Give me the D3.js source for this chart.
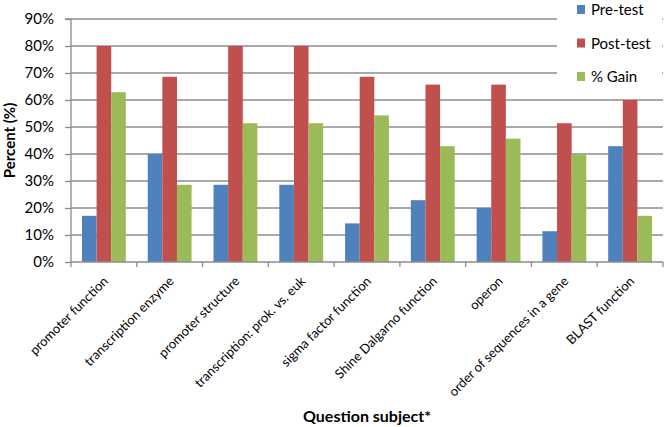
<!DOCTYPE html>
<html><head><meta charset="utf-8">
<script src="https://cdn.jsdelivr.net/npm/d3@7"></script>
<style>body{margin:0;background:#fff}svg{display:block}text{font-family:Lato,"Open Sans",sans-serif;fill:#000}</style>
</head><body>
<script>
const categories = ["promoter function","transcription enzyme","promoter structure","transcription: prok. vs. euk","sigma factor function","Shine Dalgarno function","operon","order of sequences in a gene","BLAST function"];
const seriesNames = ["Pre-test","Post-test","% Gain"];
const preTest  = [17.1, 40.0, 28.6, 28.6, 14.3, 22.9, 20.0, 11.4, 42.9];
const postTest = [80.0, 68.6, 80.0, 80.0, 68.6, 65.7, 65.7, 51.4, 60.0];
const gain     = [62.9, 28.6, 51.4, 51.4, 54.3, 42.9, 45.7, 40.0, 17.1];
const yTicks = [0,10,20,30,40,50,60,70,80,90];
const colors = ["#4F81BD","#C0504D","#9BBB59"];

const W = 664, H = 427;
const m = {left:71, right:1, top:19, bottom:165};
const svg = d3.select("body").append("svg").attr("width",W).attr("height",H);

const x0 = d3.scaleBand().domain(categories).range([m.left, W-m.right]).paddingInner(1/3).paddingOuter(1/6);
const xAxisBand = d3.scaleBand().domain(categories).range([m.left, W-m.right]);
const x1 = d3.scaleBand().domain(seriesNames).range([0, x0.bandwidth()]);
const y = d3.scaleLinear().domain([0,90]).range([H-m.bottom, m.top]);

const values = [preTest, postTest, gain];

// gridlines
svg.append("g").selectAll("line").data(yTicks.filter(d=>d>0)).join("line")
  .attr("x1",m.left).attr("x2",W-m.right)
  .attr("y1",d=>y(d)).attr("y2",d=>y(d))
  .attr("stroke","#8c8c8c").attr("stroke-width",1.3);

// bars
const groups = svg.append("g").selectAll("g").data(categories).join("g")
  .attr("transform",d=>`translate(${x0(d)},0)`);
groups.selectAll("rect").data((d,i)=>seriesNames.map((s,j)=>({s, v:values[j][i]}))).join("rect")
  .attr("x",d=>x1(d.s)).attr("width",x1.bandwidth())
  .attr("y",d=>y(d.v)).attr("height",d=>y(0)-y(d.v))
  .attr("fill",d=>colors[seriesNames.indexOf(d.s)]);

// y axis
const yAxis = svg.append("g").attr("transform",`translate(${m.left},0)`)
  .call(d3.axisLeft(y).tickValues(yTicks).tickFormat(d=>d+"%").tickSize(6).tickPadding(11));
yAxis.select(".domain").attr("stroke","#8c8c8c").attr("stroke-width",1.3).attr("d",`M-6,${y(90)}H0V${y(0)}`);
yAxis.selectAll(".tick line").attr("stroke","#8c8c8c").attr("stroke-width",1.3);
yAxis.selectAll(".tick text").style("font-size","15px").style("font-family","Lato");

// x axis
const xg = svg.append("g").attr("transform",`translate(0,${y(0)})`);
xg.append("line").attr("x1",m.left).attr("x2",W-m.right).attr("y1",0).attr("y2",0)
  .attr("stroke","#8c8c8c").attr("stroke-width",1.3);
const bounds = categories.map(c=>xAxisBand(c)).concat([W-m.right]);
xg.selectAll("line.t").data(bounds).join("line").attr("class","t")
  .attr("x1",d=>d).attr("x2",d=>d).attr("y1",0).attr("y2",5)
  .attr("stroke","#8c8c8c").attr("stroke-width",1.3);
xg.selectAll("text").data(categories).join("text")
  .attr("transform",d=>`translate(${xAxisBand(d)+xAxisBand.bandwidth()/2+5},20) rotate(-45)`)
  .attr("text-anchor","end").style("font-size","13px").text(d=>d);

// legend
svg.append("rect").attr("x",557).attr("y",0).attr("width",105).attr("height",90).attr("fill","#fff");
const lg = svg.append("g").selectAll("g").data(seriesNames).join("g")
  .attr("transform",(d,i)=>`translate(577,${9.5+i*33.5})`);
lg.append("rect").attr("x",0).attr("y",-4.5).attr("width",8).attr("height",9).attr("fill",(d,i)=>colors[i]);
lg.append("text").attr("x",14).attr("y",5.5).style("font-size","15px").text(d=>d);

// axis titles
svg.append("text").attr("transform",`translate(15,${(y(0)+y(90))/2}) rotate(-90)`)
  .attr("text-anchor","middle").style("font-size","15px").style("font-weight","bold").text("Percent (%)");
svg.append("text").attr("x",(m.left+W-m.right)/2).attr("y",422)
  .attr("text-anchor","middle").style("font-size","16px").style("font-weight","bold").text("Question subject*");
</script>
</body></html>
